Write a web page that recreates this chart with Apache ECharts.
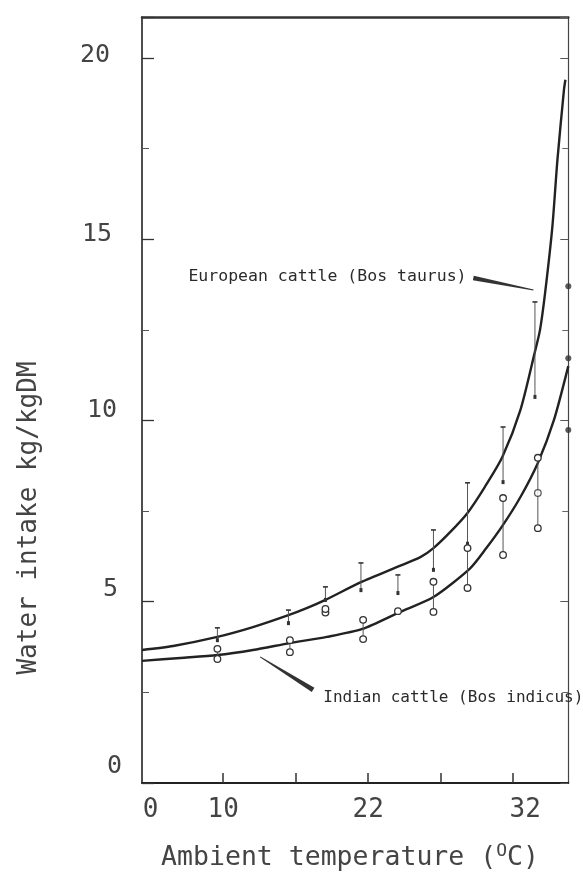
<!DOCTYPE html>
<html><head><meta charset="utf-8">
<script src="https://cdn.jsdelivr.net/npm/echarts@6/dist/echarts.min.js"></script>
<style>html,body{margin:0;padding:0;background:#fff}#c{width:583px;height:874px}</style>
</head><body><div id="c"></div>
<script>
// Temperature axis: ticks are equally spaced slots; printed labels as in the source
const xTickSlots = [1, 2, 3, 4, 5];
const xLabelSlots = [0, 1, 3, 5];
const xLabelText = ['0', '10', '', '22', '', '32'];
const yTickLabels = [0, 5, 10, 15, 20];

// Fitted curves (slot position, water intake kg/kgDM)
const europeanCurveX = [-0.12, 0.31, 0.92, 1.41, 1.90, 2.16, 2.41, 2.90, 3.40, 3.72, 3.90, 4.13, 4.37, 4.61, 4.85, 5.10, 5.30, 5.37, 5.44, 5.54, 5.61, 5.70, 5.72];
const europeanCurveY = [3.67, 3.78, 4.03, 4.30, 4.63, 4.83, 5.05, 5.54, 5.96, 6.23, 6.48, 6.92, 7.45, 8.17, 8.99, 10.29, 11.9, 12.5, 13.52, 15.34, 17.19, 19.12, 19.4];
const indianCurveX = [-0.12, 0.41, 0.92, 1.41, 1.92, 2.43, 2.92, 3.44, 3.90, 4.41, 4.63, 4.86, 5.10, 5.34, 5.56, 5.76];
const indianCurveY = [3.37, 3.45, 3.53, 3.67, 3.86, 4.03, 4.25, 4.72, 5.13, 5.93, 6.48, 7.12, 7.89, 8.83, 10.0, 11.5];

// Observations with ranges
const europeanObsX = [0.92, 1.90, 2.41, 2.90, 3.41, 3.90, 4.37, 4.86, 5.30];
const europeanObsLow = [3.94, 4.41, 5.05, 5.32, 5.24, 5.88, 6.6, 8.3, 10.65];
const europeanObsHigh = [4.28, 4.77, 5.41, 6.07, 5.74, 6.98, 8.28, 9.82, 13.27];
const indianObsX = [0.92, 1.92, 2.41, 2.93, 3.41, 3.90, 4.37, 4.86, 5.34];
const indianObsLow = [3.42, 3.61, 4.70, 3.97, 4.74, 4.72, 5.38, 6.29, 7.03];
const indianObsHigh = [3.70, 3.94, 4.80, 4.50, 4.74, 5.55, 6.48, 7.86, 8.97];
const indianMidX = [5.34];
const indianMidY = [8.0];
const edgeDotX = [5.76, 5.76, 5.76];
const edgeDotY = [13.7, 11.72, 9.74];

// Annotations
const annotText = ['European cattle (Bos taurus)', 'Indian cattle (Bos indicus)'];
const annotX = [0.52, 2.38];
const annotY = [13.96, 2.34];
const pointerFrom = [[4.45, 13.93], [1.51, 3.48]];
const pointerTo = [[5.28, 13.6], [2.24, 2.57]];

const zip = (a, b) => a.map((v, i) => [v, b[i]]);
const zip3 = (a, b, c) => a.map((v, i) => [v, b[i], c[i]]);

const MONO = '"DejaVu Sans Mono", monospace';
const chart = echarts.init(document.getElementById('c'), null, {renderer: 'canvas'});

const yShift = {0: [0, 0, 34, 0], 5: [0, 4, 24, 0], 10: [0, 5, 20, 0], 15: [0, 10, 10, 0], 20: [0, 12, 4, 0]};
const yRich = {};
yTickLabels.forEach(v => { yRich['y' + v] = {fontFamily: MONO, fontSize: 25, color: '#444', padding: yShift[v]}; });
const xRich = {
  x0: {fontFamily: MONO, fontSize: 26, color: '#444'},
  x1: {fontFamily: MONO, fontSize: 26, color: '#444'},
  x3: {fontFamily: MONO, fontSize: 26, color: '#444'},
  x5: {fontFamily: MONO, fontSize: 26, color: '#444', padding: [0, 0, 0, 24]}
};

function euRender(params, api) {
  const x = api.value(0), lo = api.value(1), hi = api.value(2);
  const a = api.coord([x, lo]), b = api.coord([x, hi]);
  return {type: 'group', children: [
    {type: 'line', shape: {x1: a[0], y1: a[1], x2: b[0], y2: b[1]}, style: {stroke: '#555', lineWidth: 1}},
    {type: 'line', shape: {x1: b[0] - 2.5, y1: b[1], x2: b[0] + 2.5, y2: b[1]}, style: {stroke: '#333', lineWidth: 1.6}},
    {type: 'rect', shape: {x: a[0] - 1.5, y: a[1] - 2, width: 3, height: 4}, style: {fill: '#333'}}
  ]};
}
function inRender(params, api) {
  const x = api.value(0), lo = api.value(1), hi = api.value(2);
  const a = api.coord([x, lo]), b = api.coord([x, hi]);
  const cs = {fill: '#fff', stroke: '#333', lineWidth: 1.3};
  const ch = [];
  if (Math.abs(a[1] - b[1]) > 0.5) ch.push({type: 'line', shape: {x1: a[0], y1: a[1], x2: b[0], y2: b[1]}, style: {stroke: '#555', lineWidth: 1}});
  ch.push({type: 'circle', shape: {cx: a[0], cy: a[1], r: 3.3}, style: cs});
  if (Math.abs(a[1] - b[1]) > 0.5) ch.push({type: 'circle', shape: {cx: b[0], cy: b[1], r: 3.3}, style: cs});
  return {type: 'group', children: ch};
}
const pointerWidths = [[4.5, 1], [1, 5]];
function pointerRender(params, api) {
  const i = params.dataIndex;
  const p = api.coord([api.value(0), api.value(1)]), q = api.coord([api.value(2), api.value(3)]);
  const dx = q[0] - p[0], dy = q[1] - p[1], L = Math.hypot(dx, dy);
  const nx = -dy / L, ny = dx / L;
  const w1 = pointerWidths[i][0] / 2, w2 = pointerWidths[i][1] / 2;
  return {type: 'polygon', shape: {points: [
    [p[0] + nx * w1, p[1] + ny * w1], [q[0] + nx * w2, q[1] + ny * w2],
    [q[0] - nx * w2, q[1] - ny * w2], [p[0] - nx * w1, p[1] - ny * w1]]},
    style: {fill: '#333'}};
}
const annotSizes = [16.5, 16];
function annotRender(params, api) {
  const i = params.dataIndex;
  const p = api.coord([api.value(0), api.value(1)]);
  return {type: 'text', x: p[0], y: p[1], style: {text: annotText[i], font: annotSizes[i] + 'px ' + MONO,
    fill: '#2a2a2a', align: 'left', verticalAlign: 'middle'}};
}

const XMIN = -0.12, XMAX = 5.76, YMAX = 21.13;
chart.setOption({
  backgroundColor: '#fff',
  animation: false,
  grid: {left: 142, right: 14.7, top: 17, bottom: 91, show: false},
  xAxis: [{
    type: 'value', min: XMIN, max: XMAX, position: 'bottom',
    axisLine: {show: true, onZero: false, lineStyle: {color: '#222', width: 2}},
    splitLine: {show: false},
    axisTick: {show: true, inside: true, length: 10, customValues: xTickSlots, lineStyle: {color: '#333', width: 1.5}},
    axisLabel: {customValues: xLabelSlots, margin: 14, formatter: v => '{x' + v + '|' + xLabelText[v] + '}', rich: xRich}
  }, {
    type: 'value', min: XMIN, max: XMAX, position: 'top',
    axisLine: {show: true, onZero: false, lineStyle: {color: '#333', width: 2.5}},
    splitLine: {show: false}, axisTick: {show: false}, axisLabel: {show: false}
  }],
  yAxis: [{
    type: 'value', min: 0, max: YMAX, interval: 5, position: 'left',
    axisLine: {show: true, onZero: false, lineStyle: {color: '#222', width: 1.6}},
    splitLine: {show: false},
    axisTick: {show: true, inside: true, length: 12, lineStyle: {color: '#333', width: 1.3}},
    minorTick: {show: true, splitNumber: 2, length: 7, lineStyle: {color: '#555', width: 1}},
    axisLabel: {margin: 20, formatter: v => yTickLabels.includes(v) ? '{y' + v + '|' + v + '}' : '', rich: yRich}
  }, {
    type: 'value', min: 0, max: YMAX, interval: 5, position: 'right',
    axisLine: {show: true, onZero: false, lineStyle: {color: '#444', width: 1.2}},
    splitLine: {show: false},
    axisTick: {show: true, inside: true, length: 8, lineStyle: {color: '#555', width: 1}},
    minorTick: {show: true, splitNumber: 2, length: 6, lineStyle: {color: '#666', width: 1}},
    axisLabel: {show: false}
  }],
  series: [
    {type: 'line', name: 'European cattle', data: zip(europeanCurveX, europeanCurveY), smooth: 0.25,
     showSymbol: false, lineStyle: {color: '#222', width: 2.4}, z: 3},
    {type: 'line', name: 'Indian cattle', data: zip(indianCurveX, indianCurveY), smooth: 0.25,
     showSymbol: false, lineStyle: {color: '#222', width: 2.4}, z: 3},
    {type: 'custom', name: 'European obs', renderItem: euRender, data: zip3(europeanObsX, europeanObsLow, europeanObsHigh), z: 4},
    {type: 'custom', name: 'Indian obs', renderItem: inRender, data: zip3(indianObsX, indianObsLow, indianObsHigh), z: 4},
    {type: 'scatter', name: 'Indian mid', data: zip(indianMidX, indianMidY), symbol: 'circle', symbolSize: 6.6,
     itemStyle: {color: '#fff', borderColor: '#333', borderWidth: 1.3}, z: 5},
    {type: 'scatter', name: 'Edge', data: zip(edgeDotX, edgeDotY), symbol: 'circle', symbolSize: 6,
     itemStyle: {color: '#333'}, z: 5},
    {type: 'custom', name: 'pointers', renderItem: pointerRender,
     data: pointerFrom.map((f, i) => [f[0], f[1], pointerTo[i][0], pointerTo[i][1]]), z: 6},
    {type: 'custom', name: 'annotations', renderItem: annotRender, data: zip(annotX, annotY), z: 6}
  ],
  graphic: [
    {type: 'text', x: 29, y: 518, rotation: Math.PI / 2,
     style: {text: 'Water intake kg/kgDM', font: '26px ' + MONO, fill: '#444', align: 'center', verticalAlign: 'middle'}},
    {type: 'text', x: 350, y: 858,
     style: {text: 'Ambient temperature ({s|O}C)', font: '26.5px ' + MONO, fill: '#444', align: 'center', verticalAlign: 'middle',
       rich: {s: {fontFamily: MONO, fontSize: 18, fill: '#444', padding: [0, 0, 14, 0]}}}}
  ]
});
</script></body></html>
